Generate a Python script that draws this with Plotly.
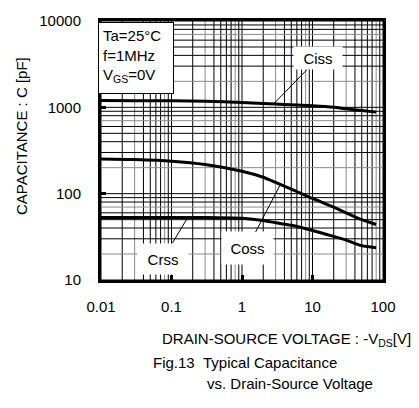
import numpy as np
import plotly.graph_objects as go

# Drain-source voltage samples (V) and capacitances (pF)
vds = [0.01, 0.03, 0.1, 0.3, 1, 2, 3, 5, 10, 20, 30, 50, 80]
ciss = [1200, 1195, 1190, 1180, 1140, 1110, 1090, 1070, 1040, 1000, 960, 920, 880]
coss = [252, 248, 238, 218, 182, 155, 135, 113, 88, 70, 60, 50, 44]
crss = [53, 53, 53, 53, 52, 49, 46, 43, 37.5, 32, 29, 25, 23.7]

x_ticks = [0.01, 0.1, 1, 10, 100]
x_ticktext = ["0.01", "0.1", "1", "10", "100"]
y_ticks = [10, 100, 1000, 10000]
y_ticktext = ["10", "100", "1000", "10000"]

# curve labels: name, label position (V, pF), voltage where the leader meets the curve
labels = [
    ("Ciss", 12.0, 3700, 2.8),
    ("Coss", 1.18, 23.2, 3.5),
    ("Crss", 0.076, 17.7, 0.17),
]

FONT = "Liberation Sans, Arial, sans-serif"
X_RANGE = (0.01, 100)
Y_RANGE = (10, 10000)

fig = go.Figure()


def grid_lines(vertical, lo_dec, hi_dec, gray_mults):
    """Build black and gray log-grid line coordinates."""
    black, gray = ([], []), ([], [])
    for e in range(lo_dec, hi_dec + 1):
        for m in range(1, 10):
            v = m * 10.0 ** e
            if e == hi_dec and m > 1:
                break
            tgt = gray if m in gray_mults else black
            if vertical:
                tgt[0].extend([v, v, None])
                tgt[1].extend([Y_RANGE[0], Y_RANGE[1], None])
            else:
                tgt[0].extend([X_RANGE[0], X_RANGE[1], None])
                tgt[1].extend([v, v, None])
    return black, gray


for vertical, lo, hi, gm in [(True, -2, 2, (3, 8)), (False, 1, 4, (2, 7))]:
    blk, gry = grid_lines(vertical, lo, hi, gm)
    for (gx, gy), col in [(gry, "#8a8a8a"), (blk, "#000000")]:
        fig.add_trace(go.Scatter(x=gx, y=gy, mode="lines",
                                 line=dict(color=col, width=1),
                                 hoverinfo="skip", showlegend=False))

for series in (ciss, coss, crss):
    fig.add_trace(go.Scatter(x=vds, y=series, mode="lines",
                             line=dict(color="black", width=3, shape="spline", smoothing=0.6),
                             hoverinfo="skip", showlegend=False))

curves = {"Ciss": ciss, "Coss": coss, "Crss": crss}
box_size = {"Ciss": (48, 22), "Coss": (51, 32), "Crss": (50, 30)}
for name, lx, ly, vx in labels:
    lv = np.log10(vds)
    cy = np.interp(np.log10(vx), lv, np.log10(curves[name]))
    w, h = box_size[name]
    fig.add_annotation(
        x=np.log10(vx), y=cy, ax=np.log10(lx), ay=np.log10(ly),
        xref="x", yref="y", axref="x", ayref="y",
        text=name, showarrow=True, arrowhead=0, arrowwidth=1,
        arrowcolor="black", standoff=0, startstandoff=0,
        bgcolor="white", width=w, height=h, borderpad=0,
        font=dict(family=FONT, size=15, color="black"),
    )

# measurement conditions box
fig.add_annotation(
    xref="paper", yref="paper", x=-0.012, y=0.997,
    xanchor="left", yanchor="top",
    text="Ta=25°C<br>f=1MHz<br>V<sub>GS</sub>=0V",
    align="left", valign="top", showarrow=False,
    width=66, height=62, borderpad=4,
    bgcolor="white", bordercolor="black", borderwidth=1,
    font=dict(family=FONT, size=15, color="black"),
)

# axis titles and caption
fig.add_annotation(
    xref="paper", yref="paper", x=-0.28, y=0.556,
    text="CAPACITANCE : C [pF]", textangle=-90, showarrow=False,
    xanchor="center", yanchor="middle",
    font=dict(family=FONT, size=15, color="black"),
)
fig.add_annotation(
    xref="paper", yref="paper", x=1.106, y=-0.229,
    text="DRAIN-SOURCE VOLTAGE : -V<sub>DS</sub>[V]", showarrow=False,
    xanchor="right", yanchor="middle",
    font=dict(family=FONT, size=15, color="black"),
)
fig.add_annotation(
    xref="paper", yref="paper", x=0.176, y=-0.318,
    text="Fig.13\u00a0\u00a0Typical Capacitance", showarrow=False,
    xanchor="left", yanchor="middle",
    font=dict(family=FONT, size=15, color="black"),
)
fig.add_annotation(
    xref="paper", yref="paper", x=0.37, y=-0.40,
    text="vs. Drain-Source Voltage", showarrow=False,
    xanchor="left", yanchor="middle",
    font=dict(family=FONT, size=15, color="black"),
)

axis_common = dict(
    type="log", showgrid=False, zeroline=False,
    showline=True, linecolor="black", linewidth=3, mirror=True,
    ticks="inside", ticklen=5, tickwidth=3, tickcolor="black",
    tickfont=dict(family=FONT, size=15, color="black"),
)
fig.update_xaxes(range=[np.log10(X_RANGE[0]), np.log10(X_RANGE[1])],
                 tickvals=x_ticks, ticktext=x_ticktext, ticklabelstandoff=11,
                 **axis_common)
fig.update_yaxes(range=[np.log10(Y_RANGE[0]), np.log10(Y_RANGE[1])],
                 tickvals=y_ticks, ticktext=y_ticktext, ticklabelstandoff=14,
                 **axis_common)

fig.update_layout(
    width=419, height=408,
    margin=dict(l=101, r=36, t=14, b=128),
    paper_bgcolor="white", plot_bgcolor="white",
    showlegend=False,
)

fig.write_html("out.html")
